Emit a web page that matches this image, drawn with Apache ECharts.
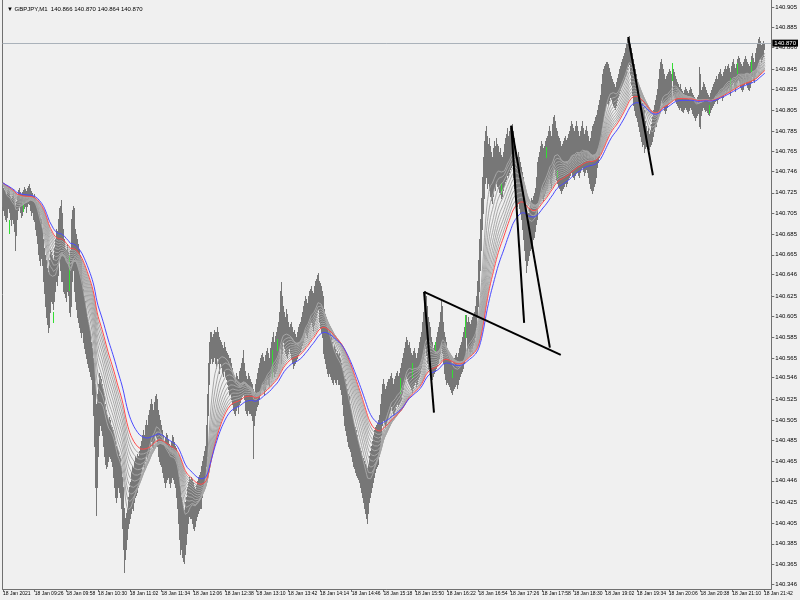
<!DOCTYPE html>
<html><head><meta charset="utf-8">
<script src="https://cdn.jsdelivr.net/npm/echarts@6/dist/echarts.min.js"></script>
<style>html,body{margin:0;padding:0;background:#f0f0f0}#c{width:800px;height:600px}</style>
</head><body><div id="c"></div>
<script>
// Prices are stored in thousandths above BASE: price = BASE + v/1000
const BASE = 140;
const highs = [
734,730,728,726,724,728,731,727,722,720, 722,725,720,712,716,722,728,730,726,724,
726,728,731,729,727,730,732,734,730,727, 725,722,724,720,716,712,710,706,702,700,
690,680,672,665,660,652,648,660,670,668, 665,660,672,680,690,688,700,710,712,718,
705,690,680,672,670,675,668,665,670,700, 708,712,710,690,685,680,675,670,665,660,
640,632,625,620,612,605,600,595,590,580, 575,565,560,540,520,530,540,550,548,545,
540,535,528,520,515,510,505,500,508,505, 500,498,495,490,485,480,478,475,470,468,
460,450,440,420,410,415,420,430,440,445, 455,460,458,465,470,468,472,470,475,480,
485,490,495,490,500,505,500,510,515,520, 525,520,515,522,528,530,525,515,510,505,
500,495,490,485,488,492,490,486,482,480, 485,490,488,484,480,478,470,460,450,440,
430,425,420,418,425,430,440,445,450,448, 450,448,445,440,438,442,446,450,452,455,
460,465,470,475,480,500,530,560,580,590, 590,585,588,592,590,585,590,595,590,585,
582,580,578,575,580,576,572,570,568,565, 565,560,555,550,548,545,550,548,545,552,
555,560,565,573,560,552,548,545,550,548, 545,542,540,535,530,540,545,550,555,560,
565,568,570,566,562,568,572,575,570,565, 575,580,585,590,580,586,590,595,600,610,
630,639,625,615,610,605,612,608,600,595, 598,600,595,590,592,588,585,590,595,598,
600,605,610,615,620,625,622,618,625,630, 632,635,630,628,635,640,642,645,647,640,
638,635,630,625,618,612,608,605,600,598, 595,590,585,580,575,578,574,570,572,568,
570,565,560,555,552,548,545,540,535,530, 528,520,515,510,505,500,498,495,490,485,
480,478,475,470,468,465,462,460,458,462, 470,475,480,485,490,495,498,500,502,505,
510,520,530,540,545,540,535,538,542,545, 545,548,550,546,540,545,548,550,552,548,
550,555,560,565,570,575,580,585,582,578, 580,575,570,568,572,575,570,565,570,575,
580,585,590,600,610,620,630,625,615,605, 600,595,590,585,580,575,578,580,585,590,
595,600,610,620,615,600,590,585,580,575, 572,570,568,565,560,562,565,568,570,566,
570,575,578,580,585,590,595,600,607,600, 605,600,598,602,605,608,610,615,625,640,
660,680,700,720,740,760,775,785,790,780, 772,778,770,765,760,768,775,770,778,772,
770,765,768,762,760,765,772,778,782,788, 780,785,788,790,792,785,778,770,765,760,
765,760,755,750,745,740,735,720,705,700, 705,710,715,720,718,722,725,730,740,750,
755,760,765,770,775,772,768,770,775,778, 780,785,790,785,780,792,798,800,795,788,
785,780,778,775,770,772,775,778,780,776, 778,782,785,790,795,792,788,785,790,795,
790,785,780,785,790,795,788,782,786,790, 785,780,775,778,785,790,792,795,798,800,
805,810,815,820,830,840,845,848,850,852, 852,850,846,842,838,835,832,830,828,832,
836,840,845,848,852,855,858,860,865,870, 874,876,877,870,865,860,855,850,845,840,
835,830,825,820,815,812,808,805,800,795, 790,785,788,782,786,792,798,805,810,815,
820,826,835,845,852,855,850,845,840,835, 838,840,842,845,843,840,847,845,842,838,
835,832,830,828,830,826,824,822,825,828, 826,824,822,825,828,826,822,820,818,816,
815,818,820,847,840,825,828,832,830,828, 825,822,820,818,822,825,828,830,832,835,
838,835,840,842,845,840,838,842,845,848, 845,848,850,846,842,848,852,855,850,846,
850,855,858,856,852,850,848,852,855,858, 855,852,850,848,852,855,858,860,856,852,
860,865,870,874,876,872,868,870,872,870];
const lows = [
712,708,704,700,698,702,710,706,700,694, 700,696,688,670,684,700,708,712,706,702,
704,708,710,712,706,712,715,714,708,704, 706,700,698,690,684,676,666,660,655,662,
655,640,628,615,605,598,590,595,610,620, 618,612,620,630,640,636,645,660,650,640,
640,630,628,624,620,630,626,610,606,615, 640,650,630,620,612,605,600,595,590,585,
590,580,575,570,565,560,556,552,548,545, 530,510,480,440,413,440,470,490,500,495,
490,480,470,462,458,460,465,470,472,468, 465,460,450,440,430,425,430,440,435,430,
420,400,380,358,370,380,390,400,405,410, 415,420,418,425,430,432,435,440,445,450,
455,460,462,458,465,470,468,472,475,480, 485,480,478,485,490,488,480,470,465,462,
460,455,450,445,440,445,448,450,444,440, 445,450,448,444,440,430,420,405,390,375,
380,372,368,366,375,385,395,405,412,410, 410,405,400,398,402,408,412,415,418,420,
420,430,440,445,450,460,470,510,540,560, 565,560,562,566,560,555,560,565,560,550,
560,556,550,548,552,548,545,540,535,530, 530,525,520,515,512,510,515,518,512,520,
522,525,528,530,525,515,512,510,515,512, 512,510,505,468,500,510,515,518,520,525,
530,535,540,535,530,535,540,545,540,538, 548,550,555,552,548,550,552,555,560,565,
575,560,570,580,575,570,568,565,570,575, 570,565,560,555,558,560,562,565,568,570,
572,575,578,580,585,590,588,585,590,595, 598,600,596,592,598,602,605,610,612,600,
595,590,585,580,570,565,560,555,550,548, 550,548,545,542,540,545,542,540,545,540,
540,535,530,520,510,500,495,490,485,480, 478,475,470,465,460,458,455,452,450,448,
445,440,435,430,425,420,415,410,405,415, 425,430,435,440,445,450,455,458,460,462,
470,480,490,500,505,502,498,500,505,508, 512,515,518,515,510,512,515,518,520,518,
520,522,525,530,535,540,545,548,546,542, 540,538,535,532,536,540,542,538,540,545,
548,550,555,560,565,570,575,568,560,555, 560,555,550,548,545,548,550,552,555,558,
560,565,570,575,570,560,550,545,540,542, 540,538,535,532,530,534,536,538,540,536,
540,545,548,550,552,555,560,565,585,570, 575,572,570,572,575,578,580,585,595,605,
615,630,650,670,690,705,720,735,740,730, 735,728,722,718,715,722,730,728,735,732,
730,726,724,720,722,728,732,736,738,742, 740,745,748,750,752,740,730,720,715,712,
715,710,705,700,690,680,670,660,648,655, 660,665,670,672,675,680,682,688,695,700,
710,715,720,722,725,720,718,722,725,728, 730,735,738,735,730,740,745,748,742,738,
735,732,730,728,725,728,730,732,735,732, 735,738,740,742,745,742,740,738,742,745,
745,742,740,745,748,750,746,742,745,748, 745,740,735,730,728,725,728,732,735,740,
750,755,760,770,780,790,795,800,805,810, 812,810,815,818,816,812,810,808,806,810,
815,818,822,825,828,830,832,835,838,840, 845,848,850,840,830,820,810,805,800,798,
795,790,785,780,775,770,772,768,765,768, 770,768,766,767,770,772,775,780,785,790,
790,795,800,805,810,815,812,808,805,802, 805,808,812,815,818,816,834,820,818,815,
812,810,808,806,808,805,804,803,806,808, 806,804,802,805,808,806,802,800,798,796,
798,800,802,790,788,800,805,808,806,804, 805,803,801,800,803,806,808,810,812,814,
815,812,816,818,820,818,815,818,822,825, 822,825,828,824,820,825,830,832,828,824,
828,832,835,832,828,826,824,826,830,833, 830,828,826,825,828,832,841,838,834,832,
838,842,848,852,855,856,852,855,858,864];
// green (bullish) bar segments: [bar index, low v, high v]
const greenBars = [[7,686,699],[21,707,716],[51,600,610],[67,631,665],[272,547,573],[277,573,583],
 [401,531,546],[413,547,560],[437,573,580],[454,547,553],[467,585,607],[503,725,735],[549,760,769],
 [560,740,747],[676,834,851],[713,802,810],[734,828,836],[741,841,851],[756,841,854]];
// moving averages (EMA periods)
const grayPeriods = [10,14,18,22,26,30,34,38,42,46];
const redPeriod = 50, bluePeriod = 60;
const emaSeed = 735;
// trend lines: [[bar index, price],[bar index, price]]
const trendLines = [
 [[425,140.629],[563,140.568]],
 [[425,140.629],[435,140.512]],
 [[513,140.790],[526,140.599]],
 [[513,140.790],[552,140.575]],
 [[631,140.876],[656,140.742]]];
const lastPrice = 140.870;
const titleText = '\u25BC GBPJPY,M1  140.866 140.870 140.864 140.870';
const yTickLabels = ['140.346','140.365','140.385','140.405','140.425','140.446','140.465','140.485',
 '140.505','140.525','140.546','140.565','140.585','140.605','140.625','140.646','140.665','140.685',
 '140.705','140.725','140.746','140.765','140.785','140.805','140.825','140.845','140.866','140.885','140.905'];
const xTickLabels = ['18 Jan 2021','18 Jan 09:26','18 Jan 09:58','18 Jan 10:30','18 Jan 11:02','18 Jan 11:34',
 '18 Jan 12:06','18 Jan 12:38','18 Jan 13:10','18 Jan 13:42','18 Jan 14:14','18 Jan 14:46','18 Jan 15:18',
 '18 Jan 15:50','18 Jan 16:22','18 Jan 16:54','18 Jan 17:26','18 Jan 17:58','18 Jan 18:30','18 Jan 19:02',
 '18 Jan 19:34','18 Jan 20:06','18 Jan 20:38','18 Jan 21:10','18 Jan 21:42'];
const barsPerLabel = 32;
const slotCount = 776;
const yMin = 140.3412, yMax = 140.9118;

const P = v => +(BASE + v/1000).toFixed(3);
const barData = highs.map((h,i)=>[i, P(lows[i]), P(h)]);
const greenData = greenBars.map(g=>[g[0], P(g[1]), P(g[2])]);
const mids = highs.map((h,i)=>(h+lows[i])/2);
function ema(n){ const a=2/(n+1); let e=emaSeed; return mids.map((m,i)=>{ e=e+a*(m-e); return [i, +(BASE+e/1000).toFixed(5)]; }); }
const cats = Array.from({length:slotCount},(_,i)=>i);
const FONT = 'Arial,"Liberation Sans",sans-serif';

function barRender(color){
  return function(params, api){
    const x = api.value(0), lo = api.value(1), hi = api.value(2);
    const p1 = api.coord([x, hi]), p2 = api.coord([x, lo]);
    const px = Math.floor(p1[0]) + 0.5;
    return {type:'line', shape:{x1:px, y1:Math.round(p1[1]), x2:px, y2:Math.round(p2[1])+1},
      style:{stroke:color, lineWidth:1}};
  };
}
const series = [];
series.push({type:'custom', renderItem:barRender('#777777'), data:barData, encode:{x:0,y:[1,2]}, z:2, silent:true, animation:false});
series.push({type:'custom', renderItem:barRender('#33dd33'), data:greenData, encode:{x:0,y:[1,2]}, z:3, silent:true, animation:false});
grayPeriods.forEach(n=>series.push({type:'line', data:ema(n), showSymbol:false, symbol:'none', z:4, silent:true, animation:false,
  lineStyle:{color:'#a6a6a6', width:1}}));
series.push({type:'line', data:ema(redPeriod), showSymbol:false, symbol:'none', z:5, silent:true, animation:false, lineStyle:{color:'#ff4a4a', width:1}});
series.push({type:'line', data:ema(bluePeriod), showSymbol:false, symbol:'none', z:5, silent:true, animation:false, lineStyle:{color:'#4a4aff', width:1},
  markLine:{silent:true, symbol:'none', animation:false, data:[{yAxis:lastPrice}],
    lineStyle:{color:'#aab2ba', width:1, type:'solid'},
    label:{position:'end', formatter:lastPrice.toFixed(3), backgroundColor:'#000', color:'#fff', fontSize:6, fontFamily:FONT, padding:[1,2,0,2], distance:1}}});
trendLines.forEach(t=>series.push({type:'line', data:t, showSymbol:false, symbol:'none', z:6, silent:true, animation:false, lineStyle:{color:'#000', width:2}}));

const chart = echarts.init(document.getElementById('c'), null, {renderer:'canvas'});
chart.setOption({
  backgroundColor:'#f0f0f0',
  animation:false,
  title:{text:titleText, left:2, top:1, textStyle:{fontSize:6, fontWeight:'normal', color:'#000', fontFamily:FONT}},
  grid:{left:1, right:23, top:0, bottom:11, containLabel:false},
  xAxis:{type:'category', data:cats, boundaryGap:true,
    axisLine:{lineStyle:{color:'#707070'}},
    axisTick:{show:true, length:3, alignWithLabel:true, interval:(i)=>i%barsPerLabel===0, lineStyle:{color:'#707070'}},
    axisLabel:{interval:(i)=>i%barsPerLabel===0, showMinLabel:true, hideOverlap:false, align:'left', margin:2, fontSize:5, color:'#000', fontFamily:FONT,
      formatter:(v,i)=>xTickLabels[Math.round(Number(v)/barsPerLabel)] || ''},
    splitLine:{show:false}},
  yAxis:[
    {type:'value', position:'right', min:yMin, max:yMax, scale:true,
     axisLine:{show:true, lineStyle:{color:'#707070'}},
     axisTick:{show:true, length:3, customValues:yTickLabels.map(Number), lineStyle:{color:'#707070'}},
     axisLabel:{customValues:yTickLabels.map(Number), margin:4, fontSize:6, color:'#000', fontFamily:FONT,
       formatter:v=>v.toFixed(3)},
     splitLine:{show:false}},
    {type:'value', position:'left', min:yMin, max:yMax, scale:true,
     axisLine:{show:true, lineStyle:{color:'#707070'}}, axisTick:{show:false}, axisLabel:{show:false}, splitLine:{show:false}}
  ],
  series:series
});
</script></body></html>
